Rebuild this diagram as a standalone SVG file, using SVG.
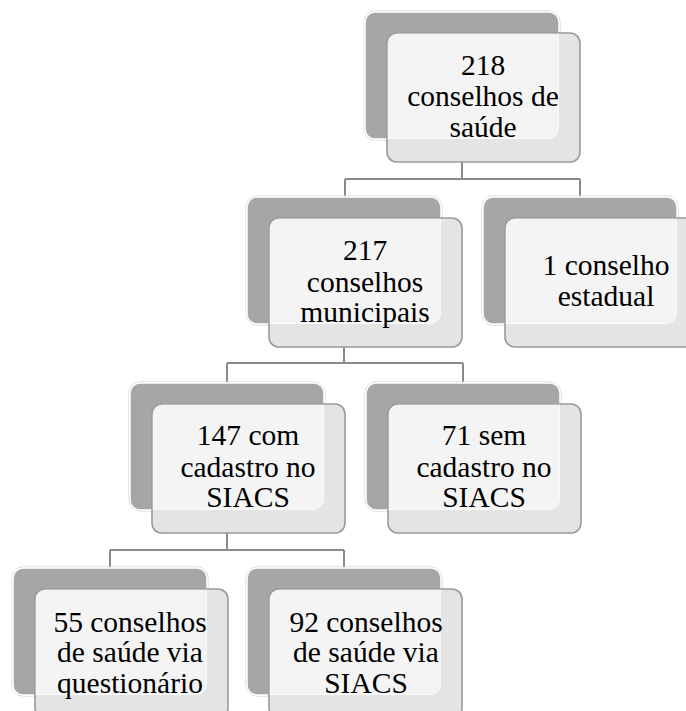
<svg xmlns="http://www.w3.org/2000/svg" xmlns:xlink="http://www.w3.org/1999/xlink" width="686" height="711" viewBox="0 0 686 711">
<style>
.back{fill:#a6a6a6;stroke:#ffffff;stroke-width:1.5}
.backring{fill:none;stroke:#d0d0d0;stroke-width:1}
.front{fill:#e4e4e4;stroke:#9a9a9a;stroke-width:1.6}
.over{fill:#f4f4f4;stroke:none}
.conn{fill:none;stroke:#8a8a8a;stroke-width:2}
.node{font-family:"Liberation Serif","Times New Roman",serif;font-size:29.5px;fill:#000000;text-anchor:middle}
</style>
<defs>
<g id="card">
<rect class="backring" x="-1" y="-1" width="196" height="129" rx="11"/>
<rect class="back" x="0" y="0" width="194" height="127" rx="10"/>
<rect class="front" x="22" y="21" width="193" height="129" rx="10"/>
<path class="over" d="M32,21.8 H193.2 V117 A10,10 0 0 1 183.2,126.2 H22.8 V31 A9,9 0 0 1 32,21.8 Z"/>
<path d="M193.5,21.8 V117 A10,10 0 0 1 184,126.5 H22.8" fill="none" stroke="#ffffff" stroke-width="1" opacity="0.8"/>
</g>
</defs>
<rect width="686" height="711" fill="#ffffff"/>
<g id="connectors">
<path class="conn" d="M462,150 V179 M345,179 H580 M345,179 V197 M580,179 V197"/>
<path class="conn" d="M344,335 V363 M227,363 H463 M227,363 V383 M463,363 V383"/>
<path class="conn" d="M227,520 V550 M110,550 H344 M110,550 V568 M344,550 V568"/>
</g>
<g id="node1" class="node" transform="translate(365,12)">
<use xlink:href="#card"/>
<text x="118" y="63">218</text>
<text x="118" y="94">conselhos de</text>
<text x="118" y="125">saúde</text>
</g>
<g id="node2" class="node" transform="translate(247,197)">
<use xlink:href="#card"/>
<text x="118" y="63">217</text>
<text x="118" y="95">conselhos</text>
<text x="118" y="125">municipais</text>
</g>
<g id="node3" class="node" transform="translate(483,197)">
<use xlink:href="#card"/>
<text x="123" y="78">1 conselho</text>
<text x="123" y="109">estadual</text>
</g>
<g id="node4" class="node" transform="translate(130,383)">
<use xlink:href="#card"/>
<text x="118" y="62">147 com</text>
<text x="118" y="94">cadastro no</text>
<text x="118" y="124">SIACS</text>
</g>
<g id="node5" class="node" transform="translate(366,383)">
<use xlink:href="#card"/>
<text x="118" y="62">71 sem</text>
<text x="118" y="94">cadastro no</text>
<text x="118" y="124">SIACS</text>
</g>
<g id="node6" class="node" transform="translate(13,568)">
<use xlink:href="#card"/>
<text x="117" y="64">55 conselhos</text>
<text x="117" y="94">de saúde via</text>
<text x="117" y="125">questionário</text>
</g>
<g id="node7" class="node" transform="translate(247,568)">
<use xlink:href="#card"/>
<text x="119" y="64">92 conselhos</text>
<text x="119" y="94">de saúde via</text>
<text x="119" y="125">SIACS</text>
</g>
</svg>
